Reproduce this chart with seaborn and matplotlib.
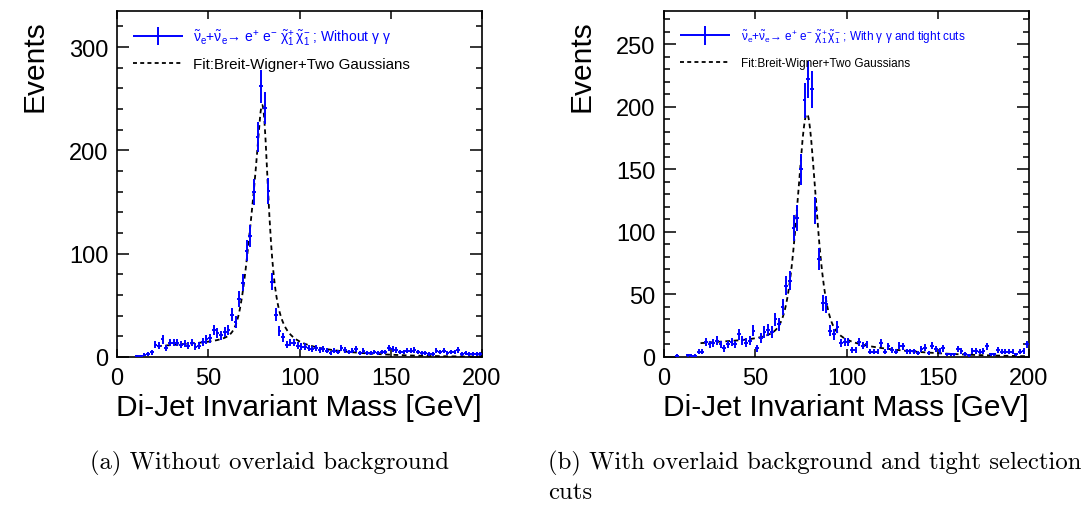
import numpy as np
import pandas as pd
import matplotlib
matplotlib.use("Agg")
import matplotlib.pyplot as plt
import seaborn as sns
from matplotlib.legend_handler import HandlerErrorbar
from matplotlib.lines import Line2D

# ---------------- data ----------------
x_min, x_max, bin_width = 0, 200, 2

counts_a = [0, 0, 0, 0, 0, 1, 1, 2, 3, 4.5,
            12, 11, 17, 9, 14, 14, 14, 12, 13, 11,
            14, 10, 11, 15, 17, 18, 26, 23, 21, 24,
            26, 41, 34, 56, 72, 103, 117, 160, 213, 262,
            241, 161, 73, 41, 25, 19, 12, 14, 14, 11,
            10, 10, 9, 8, 9, 7, 8, 6, 4, 6,
            5, 9, 7, 5, 6, 8, 4, 6, 4, 4,
            5, 4, 5, 5, 9, 8, 7, 5, 5, 6,
            6, 7, 5, 4, 4, 3, 3, 6, 5, 6,
            4, 5, 5, 7, 3, 4, 3, 3, 3, 3]

counts_b = [0, 0, 0, 1, 0, 0, 1.5, 1, 1, 4,
            4, 12, 10, 11, 13, 10, 7, 10, 12, 10,
            18, 13.5, 11.5, 13, 21, 7, 15, 20, 21.5, 20,
            30, 26, 40, 57, 61, 103, 111, 150, 205, 222,
            214, 117, 78, 43, 42, 21, 18, 24,
            11, 12, 12, 5.5, 5.5, 12, 9, 10, 4, 4,
            4, 11, 4, 8.5, 5.5, 4, 9, 8.5, 4.5, 4.5,
            4.5, 3, 6.5, 7.5, 3, 9, 6.5, 5, 7, 2,
            2, 2, 6.5, 5, 2.5, 1.5, 5, 5, 4, 5,
            8.5, 2, 2, 5.5, 4, 4, 4, 4, 2, 4, 5, 10]

# fit parameters (Breit-Wigner + two Gaussians)
fit_a = dict(A_bw=195, M=80.0, G=8.5, A1=70, mu1=75.0, s1=4.5, A2=11, mu2=50.0, s2=50.0, lo=22, hi=200)
fit_b = dict(A_bw=95, M=78.5, G=12.0, A1=90, mu1=78.0, s1=5.5, A2=11, mu2=45.0, s2=60.0, lo=20, hi=200)

label_a = (r"$\tilde{\nu}_{e}$+$\tilde{\nu}_{e}$→ e$^{+}$ e$^{-}$ "
           r"$\tilde{\chi}_{1}^{+}\,\tilde{\chi}_{1}^{-}$ ; Without $\gamma$ $\gamma$")
label_b = (r"$\tilde{\nu}_{e}$+$\tilde{\nu}_{e}$→ e$^{+}$ e$^{-}$ "
           r"$\tilde{\chi}_{1}^{+}\,\tilde{\chi}_{1}^{-}$ ; With $\gamma$ $\gamma$ and tight cuts")
fit_label = "Fit:Breit-Wigner+Two Gaussians"
x_title = "Di-Jet Invariant Mass [GeV]"
y_title = "Events"
caption_a = "(a) Without overlaid background"
caption_b1 = "(b) With overlaid background and tight selection"
caption_b2 = "cuts"
yticks_a = [0, 100, 200, 300]
yticks_b = [0, 50, 100, 150, 200, 250]
xticks = [0, 50, 100, 150, 200]

# ---------------- style ----------------
sns.set_style("ticks")
plt.rcParams["font.family"] = ["Liberation Sans", "DejaVu Sans"]
plt.rcParams["mathtext.fontset"] = "custom"
plt.rcParams["mathtext.rm"] = "Liberation Sans"
plt.rcParams["mathtext.it"] = "Liberation Sans"
plt.rcParams["mathtext.bf"] = "Liberation Sans:bold"
for k in ["text.color", "axes.labelcolor", "xtick.color", "ytick.color", "axes.edgecolor"]:
    plt.rcParams[k] = "black"

BLUE = "#0000ff"


def fit_curve(p, x):
    bw = p["A_bw"] / (1 + ((x - p["M"]) / (p["G"] / 2)) ** 2)
    g1 = p["A1"] * np.exp(-0.5 * ((x - p["mu1"]) / p["s1"]) ** 2)
    g2 = p["A2"] * np.exp(-0.5 * ((x - p["mu2"]) / p["s2"]) ** 2)
    return bw + g1 + g2


fig = plt.figure(figsize=(10.86, 5.06), dpi=100)
W, H = 1086, 506


def make_axes(left_px):
    return fig.add_axes([left_px / W, (H - 358) / H, 365 / W, 346 / H])


# axes, counts, fit, label, yticks, ymax, yminor, legend settings
panels = [
    (make_axes(117), counts_a, fit_a, label_a, yticks_a, 335, 20,
     dict(fs=10.9, fs1=10.0, hl=3.3, pad=0.62, sp=0.68, xe=1.65, ye=0.58, bx=0.0155, by=0.983)),
    (make_axes(664), counts_b, fit_b, label_b, yticks_b, 276.5, 10,
     dict(fs=8.5, fs1=8.5, hl=4.24, pad=0.95, sp=1.05, xe=2.12, ye=0.8, bx=0.021, by=0.978)),
]

centers = np.arange(x_min + bin_width / 2, x_max, bin_width)

for ax, counts, fitp, lab, yt, ymax, yminor, lg in panels:
    y = np.array(counts, dtype=float)
    df = pd.DataFrame({"mass": centers, "events": y})
    df = df[df["events"] > 0]
    eb = ax.errorbar(df["mass"], df["events"], xerr=bin_width / 2,
                     yerr=np.sqrt(df["events"]), fmt="none", ecolor=BLUE,
                     elinewidth=1.4, capsize=0, zorder=3)
    xf = np.linspace(fitp["lo"], fitp["hi"], 600)
    fdf = pd.DataFrame({"mass": xf, "fit": fit_curve(fitp, xf)})
    sns.lineplot(data=fdf, x="mass", y="fit", ax=ax, color="black", lw=1.3,
                 zorder=2)
    ax.lines[-1].set_dashes((2.6, 2.0))

    ax.set_xlim(x_min, x_max)
    ax.set_ylim(0, ymax)
    ax.set_xticks(xticks)
    ax.set_yticks(yt)
    ax.set_yticks(np.arange(0, ymax, yminor), minor=True)
    ax.tick_params(axis="both", which="both", direction="in", top=True, right=True,
                   width=1.1, labelsize=17, colors="black")
    ax.tick_params(axis="y", which="major", length=8.5, pad=6)
    ax.tick_params(axis="y", which="minor", length=4.3)
    ax.tick_params(axis="x", which="major", length=6, pad=7)
    for s in ax.spines.values():
        s.set_linewidth(1.2)
        s.set_color("black")
    ax.set_xlabel("")
    ax.set_ylabel("")
    ax.text(1.0, -0.145, x_title, transform=ax.transAxes, ha="right", va="center",
            fontsize=21.5, color="black")
    ax.text(-0.225, 0.977, y_title, transform=ax.transAxes, ha="center", va="top",
            rotation=90, fontsize=21.5, color="black")

    fit_handle = Line2D([], [], color="black", lw=1.3, dashes=(2.2, 1.8))
    leg = ax.legend([eb, fit_handle], [lab, fit_label], loc="upper left",
                    bbox_to_anchor=(lg["bx"], lg["by"]), frameon=False, fontsize=lg["fs"],
                    handlelength=lg["hl"], handletextpad=lg["pad"],
                    labelspacing=lg["sp"], borderaxespad=0.3,
                    handler_map={type(eb): HandlerErrorbar(xerr_size=lg["xe"],
                                                           yerr_size=lg["ye"])})
    leg.get_texts()[0].set_color(BLUE)
    leg.get_texts()[0].set_fontsize(lg["fs1"])
    leg.get_texts()[1].set_color("black")

cap_fs = 17.8
fig.text(90 / W, 1 - 463 / H, caption_a, family="cmr10", fontsize=cap_fs, va="center", ha="left")
fig.text(548 / W, 1 - 463 / H, caption_b1, family="cmr10", fontsize=cap_fs, va="center", ha="left")
fig.text(548 / W, 1 - 493 / H, caption_b2, family="cmr10", fontsize=cap_fs, va="center", ha="left")

fig.savefig("out.png", dpi=100)
